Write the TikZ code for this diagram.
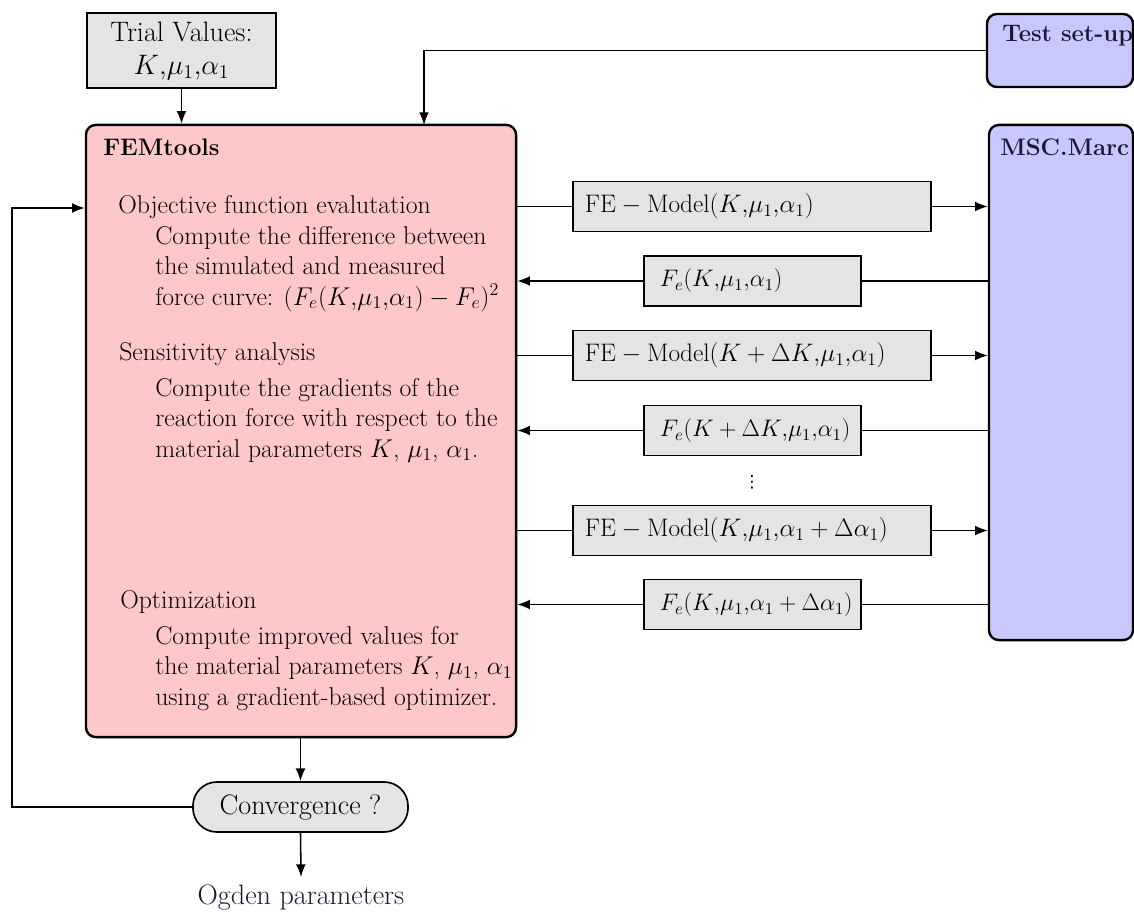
\RequirePackage{fix-cm}
\documentclass[tikz,border=0pt]{standalone}
\usepackage{amsmath,amssymb}
\usepackage{fontspec}
\newfontfamily\symfont{DejaVu Sans}
\usepackage{tikz}
\usetikzlibrary{calc,arrows.meta,positioning}
\tikzset{>={Latex[length=9pt,width=7pt]}}
\definecolor{mypink}{RGB}{255,200,200}
\definecolor{mylilac}{RGB}{200,200,255}
\definecolor{mygray}{RGB}{228,228,228}
\definecolor{mynavy}{RGB}{25,25,55}
\tikzset{
  bigbox/.style={draw, line width=1.7pt, rounded corners=7pt},
  graybox/.style={draw, fill=mygray, line width=1.2pt},
  msgwide/.style={graybox, font=\fontsize{18}{21}\selectfont, minimum height=1.25cm, text width=8.35cm, inner xsep=0.3cm, align=left},
  msgnarrow/.style={graybox, font=\fontsize{17}{20}\selectfont, minimum height=1.25cm, text width=4.625cm, inner xsep=0.4cm, align=left},
  bigfont/.style={font=\fontsize{20}{23.5}\selectfont},
  txt/.style={anchor=base west, inner sep=0pt, align=left, font=\fontsize{18.3}{21.5}\selectfont},
  title/.style={anchor=base west, inner sep=0pt, font=\fontsize{17}{20}\bfseries},
  conn/.style={line width=1.1pt}
}

\begin{document}
\fontsize{18}{21.5}\selectfont
\begin{tikzpicture}[x=0.025cm, y=-0.025cm]
\useasboundingbox (0,0) rectangle (1134,913);

% main blocks
\node[bigbox, fill=mypink, minimum width=10.75cm, minimum height=15.3cm] (fem) at (301,431) {};
\node[bigbox, fill=mylilac, minimum width=3.65cm, minimum height=1.825cm] (setup) at (1060,50.5) {};
\node[bigbox, fill=mylilac, minimum width=3.6cm, minimum height=12.875cm] (marc) at (1061,382.5) {};
\node[graybox, bigfont, minimum width=4.725cm, minimum height=1.825cm, align=center] (trial) at (181.5,50.5)
  {Trial Values:\\ $K{,}\mu_1{,}\alpha_1$};
\node[graybox, bigfont, rounded corners=17pt, minimum width=5.375cm, minimum height=1.25cm] (conv) at (300.5,807) {Convergence ?};
\node[bigfont, anchor=base, inner sep=5pt, text=mynavy] (ogden) at (301,904) {Ogden parameters};

% titles
\node[title] (femtitle) at (103,155) {FEMtools};
\node[title, text=mynavy] (setuptitle) at (1002,42) {Test set-up};
\node[title, text=mynavy] (marctitle) at (1000,155) {MSC.Marc};

% text inside FEMtools
\node[txt] (obj) at (118,213) {Objective function evalutation};
\node[txt] (objtext) at (155,305) {Compute the difference between\\ the simulated and measured\\
  force curve: $(F_e(K{,}\mu_1{,}\alpha_1)-F_e)^2$};
\node[txt] (sens) at (119,360) {Sensitivity analysis};
\node[txt] (senstext) at (155,457) {Compute the gradients of the\\ reaction force with respect to the\\
  material parameters $K$, $\mu_1$, $\alpha_1$.};
\node[txt] (opt) at (120,608) {Optimization};
\node[txt] (opttext) at (155,705) {Compute improved values for\\ the material parameters $K$, $\mu_1$, $\alpha_1$\\
  using a gradient-based optimizer.};

% messages
\node[msgwide] (fwd1) at (752,206.5) {\mbox{$\mathrm{FE}-\mathrm{Model}(K{,}\mu_1{,}\alpha_1)$}};
\node[msgnarrow] (ret1) at (752.5,281) {\mbox{$F_e(K{,}\mu_1{,}\alpha_1)$}};
\node[msgwide] (fwd2) at (752,355.5) {\mbox{$\mathrm{FE}-\mathrm{Model}(K+\Delta K{,}\mu_1{,}\alpha_1)$}};
\node[msgnarrow] (ret2) at (752.5,430.5) {\mbox{$F_e(K+\Delta K{,}\mu_1{,}\alpha_1)$}};
\node[inner sep=0pt, font=\fontsize{12}{12}\symfont] (dots) at (752,482) {⋮};
\node[msgwide] (fwd3) at (752,530.5) {\mbox{$\mathrm{FE}-\mathrm{Model}(K{,}\mu_1{,}\alpha_1+\Delta\alpha_1)$}};
\node[msgnarrow] (ret3) at (752.5,604.5) {\mbox{$F_e(K{,}\mu_1{,}\alpha_1+\Delta\alpha_1)$}};

\foreach \i in {1,2,3}{
  \draw[conn] (fem.east |- fwd\i) -- (fwd\i.west);
  \draw[conn, ->] (fwd\i.east) -- (marc.west |- fwd\i);
  \draw[conn] (marc.west |- ret\i) -- (ret\i.east);
  \draw[conn, ->] (ret\i.west) -- (fem.east |- ret\i);
}

% inputs and loop
\coordinate (setin) at (424,125);
\coordinate (back) at (12,208);
\draw[conn, ->] (trial.south) -- (trial.south |- fem.north);
\draw[conn, ->] (setup.west) -| (setin);
\draw[conn, ->] (conv.north |- fem.south) -- (conv.north);
\draw[conn, ->] (conv.south) -- (ogden.north);
\draw[conn, ->] (conv.west) -| (back) -- (fem.west |- back);
\end{tikzpicture}
\end{document}
